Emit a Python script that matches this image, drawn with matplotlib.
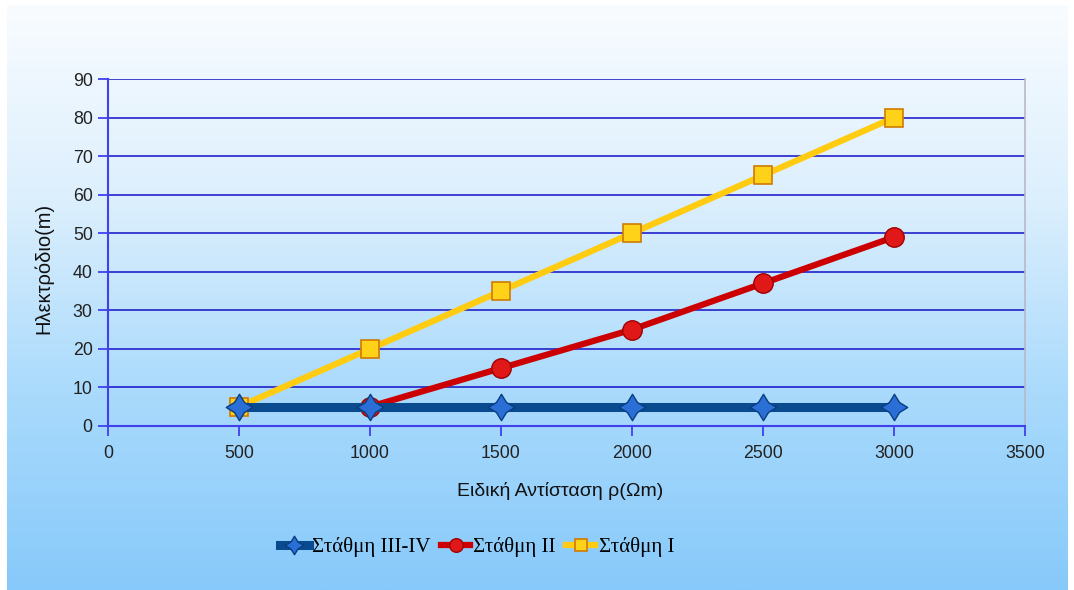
import numpy as np
import matplotlib.pyplot as plt
from matplotlib.path import Path
from matplotlib.colors import LinearSegmentedColormap

# series values
x_vals = [500, 1000, 1500, 2000, 2500, 3000]
level_34 = [5, 5, 5, 5, 5, 5]
x_level_2 = [1000, 1500, 2000, 2500, 3000]
level_2 = [5, 15, 25, 37, 49]
level_1 = [5, 20, 35, 50, 65, 80]

labels = ['Στάθμη III-IV', 'Στάθμη II', 'Στάθμη I']
xlabel = 'Ειδική Αντίσταση ρ(Ωm)'
ylabel = 'Ηλεκτρόδιο(m)'

# 4-point star marker for the blue series
star_verts = [(0, 1), (0.38, 0.38), (1, 0), (0.38, -0.38), (0, -1),
              (-0.38, -0.38), (-1, 0), (-0.38, 0.38), (0, 1)]
star = Path(star_verts, [Path.MOVETO] + [Path.LINETO] * 7 + [Path.CLOSEPOLY])

fig = plt.figure(figsize=(10.74, 5.90), dpi=100)
fig.patch.set_facecolor('white')

# gradient background panel
bg = fig.add_axes([7 / 1074, 0, 1 - 13 / 1074, 1 - 5 / 590], zorder=-10)
cmap = LinearSegmentedColormap.from_list('sky', ['#F9FCFF', '#DCEFFD', '#A9DAFC', '#87C9FA'])
grad = np.linspace(0, 1, 256).reshape(-1, 1)
bg.imshow(grad, aspect='auto', cmap=cmap, extent=[0, 1, 0, 1], origin='upper')
bg.set_axis_off()

ax = fig.add_axes([108 / 1074, 1 - 426 / 590, 917 / 1074, 347 / 590])
ax.set_facecolor('none')

h1, = ax.plot(x_vals, level_1, color='#FFCC11', lw=4.5, marker='s', ms=13,
              mfc='#FFD21A', mec='#D07A00', mew=1.2, zorder=3)
h2, = ax.plot(x_level_2, level_2, color='#CC0000', lw=4.5, marker='o', ms=14,
              mfc='#E01818', mec='#A00000', mew=1.0, zorder=4)
h3, = ax.plot(x_vals, level_34, color='#0A4A8E', lw=6.5, marker=star, ms=19,
              mfc='#2A6FD6', mec='#0A3D80', mew=1.0, zorder=5)

ax.set_xlim(0, 3500)
ax.set_ylim(0, 90)
ax.set_xticks(np.arange(0, 3501, 500))
ax.set_yticks(np.arange(0, 91, 10))
ax.yaxis.grid(True, color='#2222CC', lw=1.2)
ax.set_axisbelow(True)

for side in ['left', 'bottom']:
    ax.spines[side].set_color('#4040EE')
    ax.spines[side].set_linewidth(1.5)
ax.spines['top'].set_visible(False)
ax.spines['right'].set_color('#B8B8C8')
ax.spines['right'].set_linewidth(1.2)

ax.tick_params(axis='both', direction='out', length=7, width=1.3, color='#4040EE',
               labelsize=12.8, labelcolor='#222222', pad=4)
ax.tick_params(axis='x', pad=7)
for lbl in ax.get_xticklabels() + ax.get_yticklabels():
    lbl.set_family('Liberation Sans')

fig.text(560 / 1074, 1 - 491 / 590, xlabel, ha='center', va='center',
         fontsize=14, family='Liberation Sans', color='#111111')
fig.text(44 / 1074, 1 - 268 / 590, ylabel, ha='center', va='center', rotation=90,
         fontsize=14.5, family='Liberation Sans', color='#111111')

fig.legend([h3, h2, h1], labels, loc='center', bbox_to_anchor=(477 / 1074, 1 - 547 / 590),
           ncol=3, frameon=False, handlelength=1.4, handletextpad=0.15, columnspacing=0.5,
           markerscale=0.7, prop={'family': 'Liberation Serif', 'size': 15})

fig.savefig('out.png', dpi=100)
